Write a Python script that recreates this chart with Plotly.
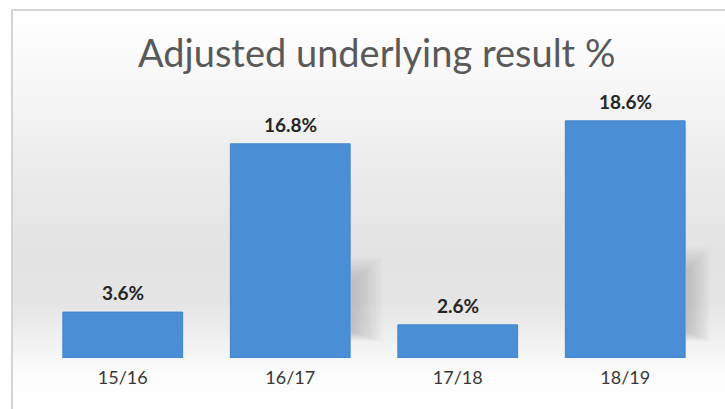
import plotly.graph_objects as go
import numpy as np

# Chart data
categories = ["15/16", "16/17", "17/18", "18/19"]
values = [3.6, 16.8, 2.6, 18.6]
value_labels = ["3.6%", "16.8%", "2.6%", "18.6%"]

W, H = 725, 409
ML, MR, MT, MB = 39, 16, 103, 51
Y_MAX = 20.0
plot_h = H - MT - MB
FONT = "Lato, Carlito, sans-serif"


def py_to_paper(py):
    return (H - MB - py) / plot_h


def px_to_paper(px):
    return (px - ML) / (W - ML - MR)


# Soft vertical background shading inside the frame
stops_py = [10, 60, 150, 250, 300, 340, 372, 409]
stops_v = [255, 250, 238, 227, 228, 240, 252, 255]
shapes = []
band = 4
for y0 in range(10, H, band):
    y1 = min(y0 + band, H)
    v = int(round(np.interp((y0 + y1) / 2, stops_py, stops_v)))
    shapes.append(dict(
        type="rect", xref="paper", yref="paper",
        x0=px_to_paper(12), x1=px_to_paper(W + 2),
        y0=py_to_paper(y1), y1=py_to_paper(y0),
        fillcolor=f"rgb({v},{v},{v})", line=dict(width=0), layer="below",
    ))

# Blurred cast shadows beside the taller bars (layered faint rectangles)
for (bx, reach, ytop, ybot) in [(351, 34, 255, 342), (686, 26, 245, 342)]:
    steps = 10
    for i in range(steps):
        f = (i + 1) / steps
        shapes.append(dict(
            type="rect", xref="paper", yref="paper",
            x0=px_to_paper(bx), x1=px_to_paper(bx + reach * (1 - 0.9 * f)),
            y0=py_to_paper(ybot - 10 * f), y1=py_to_paper(ytop + 25 * f),
            fillcolor="rgba(110,110,110,0.035)", line=dict(width=0), layer="below",
        ))

# Frame lines
shapes.append(dict(type="line", xref="paper", yref="paper",
                   x0=px_to_paper(12), x1=px_to_paper(12),
                   y0=py_to_paper(H), y1=py_to_paper(10),
                   line=dict(color="#d4d4d4", width=2), layer="below"))
shapes.append(dict(type="line", xref="paper", yref="paper",
                   x0=px_to_paper(12), x1=px_to_paper(W + 2),
                   y0=py_to_paper(10), y1=py_to_paper(10),
                   line=dict(color="#d4d4d4", width=2), layer="below"))

fig = go.Figure()
fig.add_trace(go.Bar(
    x=categories, y=values,
    marker=dict(color="#4a8fd6", line=dict(color="#3f83cc", width=1)),
    width=0.715,
    hoverinfo="skip",
))

annotations = [
    dict(x=c, y=v, text=f"<b>{t}</b>", showarrow=False, yanchor="bottom",
         yshift=6, font=dict(family=FONT, size=19, color="#262626"))
    for c, v, t in zip(categories, values, value_labels)
]
annotations.append(dict(
    text="Adjusted underlying result %", xref="paper", yref="paper",
    x=px_to_paper(376), y=py_to_paper(52), xanchor="center", yanchor="middle",
    showarrow=False, font=dict(family=FONT, size=38, color="#595959"),
))

fig.update_layout(
    width=W, height=H,
    margin=dict(l=ML, r=MR, t=MT, b=MB),
    paper_bgcolor="white", plot_bgcolor="rgba(0,0,0,0)",
    showlegend=False,
    shapes=shapes,
    annotations=annotations,
    bargap=0.285,
    xaxis=dict(showgrid=False, zeroline=False, showline=False, ticks="",
               ticklabelstandoff=7,
               tickfont=dict(family=FONT, size=18, color="#383838")),
    yaxis=dict(range=[0, Y_MAX], visible=False, fixedrange=True),
)

fig.write_html("out.html")
